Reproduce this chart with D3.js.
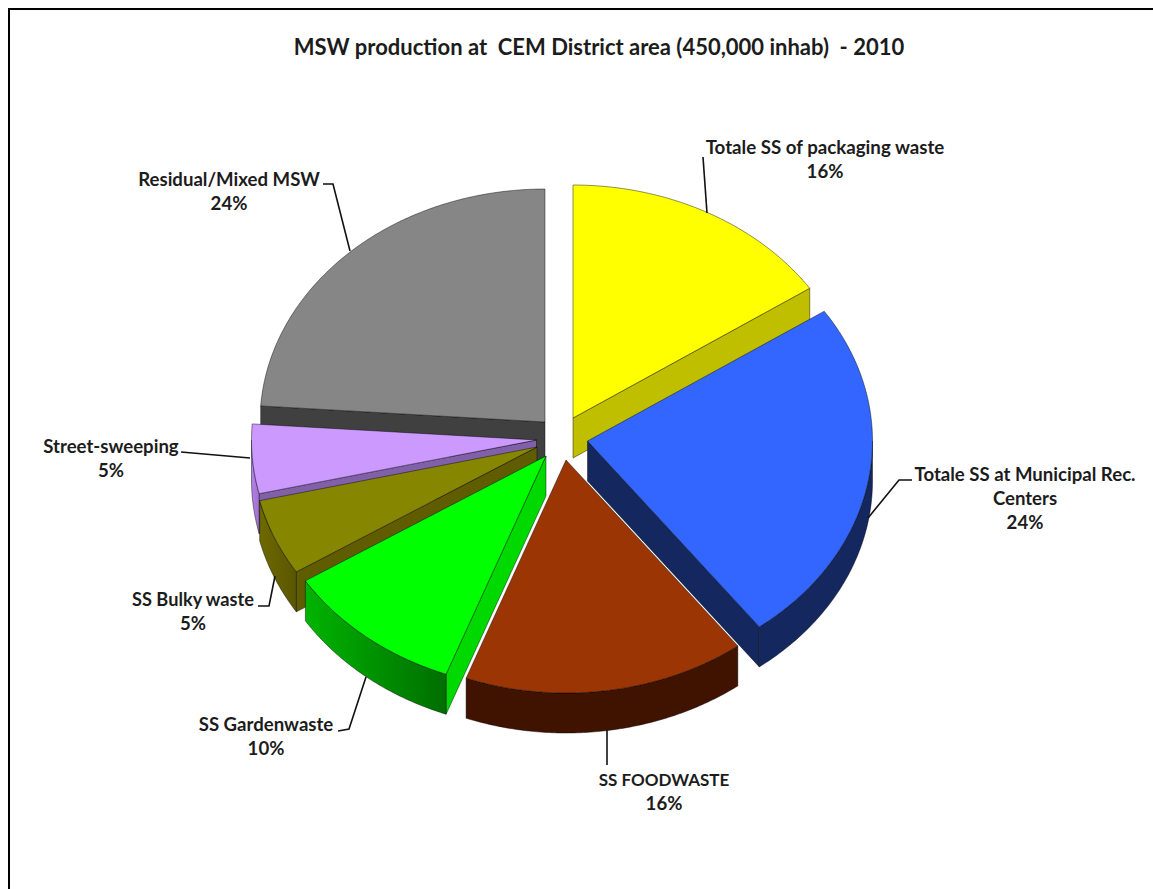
<!DOCTYPE html>
<html>
<head>
<meta charset="utf-8">
<script src="https://cdn.jsdelivr.net/npm/d3@7"></script>
<style>
html,body{margin:0;padding:0;background:#fff;overflow:hidden}
svg{display:block}
text{font-family:Lato,"Open Sans",sans-serif;font-weight:700;fill:#1c1c1c}
</style>
</head>
<body>
<div id="chart"></div>
<script>
// ---- data ----
const categories = ["Totale SS of packaging waste","Totale SS at Municipal Rec. Centers","SS FOODWASTE","SS Gardenwaste","SS Bulky waste","Street-sweeping","Residual/Mixed MSW"];
const values = [15.6, 24.1, 16, 10.3, 5.3, 4.8, 23.9];
const titleText = "MSW production at  CEM District area (450,000 inhab)  - 2010";

// ---- style and layout ----
const topColors  = ["#ffff00","#3366ff","#9c3504","#00ff00","#868600","#cc99ff","#868686"];
const cutColors  = ["#bfbf00","#14285f","#3f1300","#00d900","#605c00","#8060a8","#404040"];
const rimFrom    = ["#bfbf00","#14285f","#3f1300","#00b400","#6e6900","#b482e6","#404040"];
const rimTo      = ["#bfbf00","#14285f","#3f1300","#006e00","#5a5600","#a070d0","#404040"];
const explode    = [[18,-20],[32.5,3],[11,22],[-9,18],[-18,9],[-18.5,2],[-10,-16]];
const labelLines = [
  ["Totale SS of packaging waste"],
  ["Totale SS at Municipal Rec.","Centers"],
  ["SS FOODWASTE"],["SS Gardenwaste"],["SS Bulky waste"],["Street-sweeping"],["Residual/Mixed MSW"]
];
const labelPos = [[825,148],[1025,475],[664,780],[266,725],[193,600],[111,447],[229,180]];
const labelSize = [18.7,18.6,17,18.6,18.2,18.6,18.6];
const leaders = [
  [[703,157],[707,213]],
  [[912,480],[899,480],[868,518]],
  [[607,730],[607,765]],
  [[366,677],[349,729],[338,731]],
  [[275,576],[269,606],[258,606]],
  [[250,458],[181,452]],
  [[350,251],[333,184],[323,184]]
];
const W = 1153, H = 889, CX = 555, CY = 438, RX = 285, RY = 233, DEPTH = 40;
const drawOrder = [6,0,5,4,3,2,1];

const svg = d3.select("#chart").append("svg").attr("width",W).attr("height",H);
const defs = svg.append("defs");

// frame: top and left rules only reach the picture edges
svg.append("path").attr("d",`M9,${H+2}V9H${W+2}`).attr("fill","none").attr("stroke","#000").attr("stroke-width",2);

svg.append("text").attr("x",599).attr("y",55).attr("text-anchor","middle")
  .attr("font-size",22).style("white-space","pre").attr("xml:space","preserve").text(titleText);

const arcs = d3.pie().sort(null).value(d=>d).startAngle(0).endAngle(2*Math.PI)(values);
const xS = d3.scaleLinear().domain([0,1]).range([0,RX]);
const yS = d3.scaleLinear().domain([0,1]).range([0,RY]);
const pt = (i,t,dz=0)=>{
  const [ox,oy]=explode[i];
  return [CX+ox+xS(Math.sin(t)), CY+oy-yS(Math.cos(t))+dz];
};
const apex = (i,dz=0)=>[CX+explode[i][0], CY+explode[i][1]+dz];
const line = d3.line();
const sample = (a,b)=>{const n=Math.max(2,Math.ceil(Math.abs(b-a)/0.01));return d3.range(n+1).map(k=>a+(b-a)*k/n);};

const g = svg.append("g").attr("stroke","#000").attr("stroke-opacity",0.55).attr("stroke-width",0.8).attr("stroke-linejoin","round");

drawOrder.forEach(i=>{
  const a = arcs[i], s = a.startAngle, e = a.endAngle;
  const id = "rim"+i;
  const grad = defs.append("linearGradient").attr("id",id);
  grad.append("stop").attr("offset","0%").attr("stop-color",rimFrom[i]);
  grad.append("stop").attr("offset","100%").attr("stop-color",rimTo[i]);

  // cut faces: only those turned towards the viewer
  const cuts = [];
  if(Math.sin(s) < -1e-6) cuts.push(s);
  if(Math.sin(e) >  1e-6) cuts.push(e);
  cuts.forEach(t=>{
    g.append("path")
      .attr("d",line([apex(i),pt(i,t),pt(i,t,DEPTH),apex(i,DEPTH)])+"Z")
      .attr("fill",cutColors[i]);
  });
  // outer wall (front half of the ellipse only)
  const lo = Math.max(s,Math.PI/2), hi = Math.min(e,3*Math.PI/2);
  if(hi>lo){
    const ts = sample(lo,hi);
    const poly = ts.map(t=>pt(i,t)).concat(ts.slice().reverse().map(t=>pt(i,t,DEPTH)));
    g.append("path").attr("d",line(poly)+"Z").attr("fill",`url(#${id})`);
  }
  // top face
  const top = [apex(i)].concat(sample(s,e).map(t=>pt(i,t)));
  g.append("path").attr("d",line(top)+"Z").attr("fill",topColors[i]);
});

// leader lines
svg.append("g").selectAll("path").data(leaders).join("path")
  .attr("d",d=>line(d)).attr("fill","none").attr("stroke","#111").attr("stroke-width",1.6);

// labels
const pct = d3.format(".0f");
const lab = svg.append("g").attr("text-anchor","middle");
categories.forEach((c,i)=>{
  const lines = labelLines[i].concat([pct(values[i])+"%"]);
  lines.forEach((t,k)=>{
    lab.append("text").attr("x",labelPos[i][0]).attr("y",labelPos[i][1]+6+k*24)
      .attr("font-size",k===lines.length-1?18.6:labelSize[i]).text(t);
  });
});
</script>
</body>
</html>
